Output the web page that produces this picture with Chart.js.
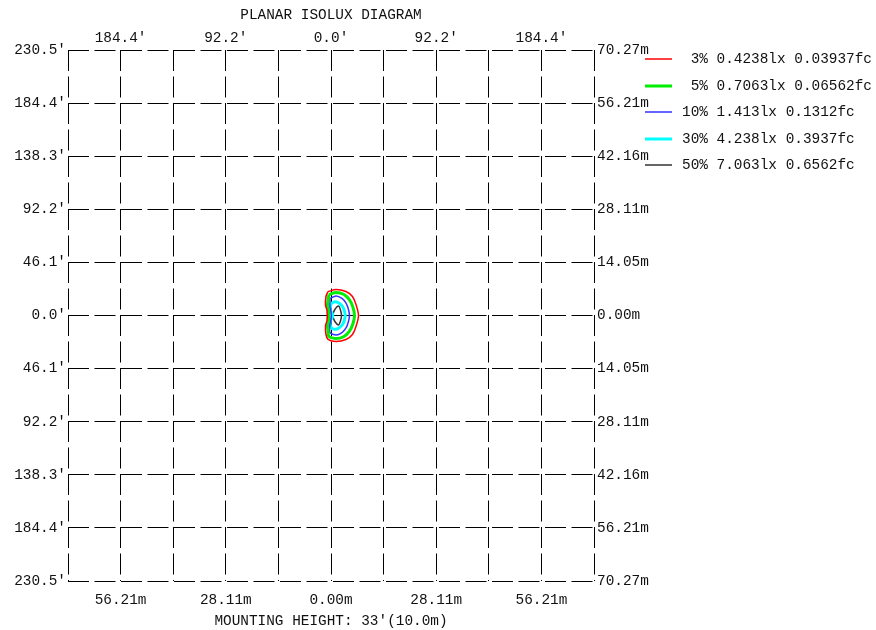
<!DOCTYPE html>
<html>
<head>
<meta charset="utf-8">
<title>Planar Isolux Diagram</title>
<script src="https://cdn.jsdelivr.net/npm/chart.js@4"></script>
<style>
  html, body { margin: 0; padding: 0; background: #fff; }
  canvas { display: block; }
</style>
</head>
<body>
<canvas id="isolux" width="876" height="630"></canvas>
<script>
// axis range in feet, both directions
var axisMin = -230.5;
var axisMax = 230.5;
var axisStep = 46.1;

var ftLabels = ["230.5'", "184.4'", "138.3'", "92.2'", "46.1'", "0.0'", "46.1'", "92.2'", "138.3'", "184.4'", "230.5'"];
var mLabels = ["70.27m", "56.21m", "42.16m", "28.11m", "14.05m", "0.00m", "14.05m", "28.11m", "42.16m", "56.21m", "70.27m"];

// contours, [x ft, y ft]
var contour3 = [[-2.6, 20.8], [4.4, 22.6], [13.1, 20.8], [18.8, 16.5], [21.9, 9.6], [24.1, 0], [21.9, -9.6], [18.8, -16.5], [13.1, -20.8], [4.4, -22.6], [-2.6, -20.8], [-4.4, -16.5], [-4.8, -8.7], [-3.5, -4.3], [-3.5, 4.3], [-4.8, 8.7], [-4.4, 16.5], [-2.6, 20.8]];
var contour5 = [[-1.8, 18.2], [4.4, 20], [11.4, 18.2], [16.2, 13.5], [19.1, 7.6], [20.6, 0], [19.1, -7.6], [16.2, -13.5], [11.4, -18.2], [4.4, -20], [-1.8, -18.2], [-2.6, -13], [-3.1, -7.8], [-2.2, -4.3], [-2.2, 4.3], [-3.1, 7.8], [-2.6, 13], [-1.8, 18.2]];
var contour10 = [[-0.9, 14.8], [4.4, 16.9], [9.6, 14.8], [13.3, 10.6], [15.3, 5.2], [16.2, 0], [15.3, -5.2], [13.3, -10.6], [9.6, -14.8], [4.4, -16.9], [-0.9, -14.8], [-0.9, -6.9], [0, -3.5], [0, 3.5], [-0.9, 6.9], [-0.9, 14.8]];
var contour30 = [[0, 10.4], [3.1, 12], [7, 10.9], [10.3, 7.6], [11.8, 3.9], [12.4, 0], [11.8, -3.9], [10.3, -7.6], [7, -10.9], [3.1, -12], [0, -10.4], [-0.7, -4.8], [1.3, -1.3], [1.3, 1.3], [-0.7, 4.8], [0, 10.4]];
var contour50 = [[1.3, 0], [3.1, 4.8], [6.6, 8.2], [8.3, 4.8], [9.2, 0], [8.3, -4.8], [6.6, -8.2], [3.1, -4.8], [1.3, 0]];

var legendPct = [" 3%", " 5%", "10%", "30%", "50%"];
var legendLux = ["0.4238lx", "0.7063lx", "1.413lx", "4.238lx", "7.063lx"];
var legendFc = ["0.03937fc", "0.06562fc", "0.1312fc", "0.3937fc", "0.6562fc"];
var legendColors = ["#ff0000", "#00ee00", "#3333ff", "#00ffff", "#333333"];
var legendWidths = [1.5, 3, 1.5, 3, 1.5];

var contours = [contour3, contour5, contour10, contour30, contour50];
var monoFont = "'Liberation Mono', 'Courier New', monospace";
var fontSize = 14.4;

function toPoints(arr) {
  return arr.map(function (p) { return { x: p[0], y: p[1] }; });
}

var datasets = contours.map(function (c, i) {
  return {
    label: legendPct[i].trim(),
    data: toPoints(c),
    showLine: true,
    borderColor: legendColors[i],
    borderWidth: legendWidths[i],
    pointRadius: 0,
    tension: 0.25,
    fill: false
  };
});

var legendPlugin = {
  id: "isoluxLegend",
  afterDraw: function (chart) {
    var ctx = chart.ctx;
    ctx.save();
    ctx.font = fontSize + "px " + monoFont;
    ctx.textBaseline = "middle";
    ctx.textAlign = "left";
    for (var i = 0; i < legendPct.length; i++) {
      var y = Math.round(59 + i * 26.5);
      ctx.strokeStyle = legendColors[i];
      ctx.lineWidth = legendWidths[i];
      ctx.beginPath();
      ctx.moveTo(645, y);
      ctx.lineTo(672, y);
      ctx.stroke();
      ctx.fillStyle = "#111";
      ctx.fillText(legendPct[i] + " " + legendLux[i] + " " + legendFc[i], 682, y + 0.5);
    }
    ctx.restore();
  }
};

function gridScale(pos, labels, onlyOdd, pad, size, showGrid, title) {
  return {
    type: "linear",
    position: pos,
    min: axisMin,
    max: axisMax,
    ticks: {
      stepSize: axisStep,
      autoSkip: false,
      maxRotation: 0,
      padding: pad,
      color: "#111",
      font: { family: monoFont, size: fontSize },
      callback: function (value, index) {
        if (onlyOdd && index % 2 === 0) return "";
        return labels[index];
      }
    },
    grid: {
      display: showGrid,
      drawTicks: false,
      color: "#000",
      lineWidth: 1
    },
    border: { display: false, dash: [21, 5.5] },
    title: title,
    afterFit: function (scale) {
      if (pos === "left" || pos === "right") scale.width = size;
      else scale.height = size;
    }
  };
}

new Chart(document.getElementById("isolux"), {
  type: "scatter",
  data: { datasets: datasets },
  plugins: [legendPlugin],
  options: {
    responsive: false,
    animation: false,
    layout: { padding: 0 },
    plugins: {
      legend: { display: false },
      tooltip: { enabled: false }
    },
    scales: {
      x: gridScale("bottom", mLabels, true, 11, 49, true, {
        display: true,
        text: "MOUNTING HEIGHT: 33'(10.0m)",
        color: "#111",
        font: { family: monoFont, size: fontSize },
        padding: { top: 0, bottom: 0 }
      }),
      x2: gridScale("top", ftLabels, true, 3, 50, false, {
        display: true,
        text: "PLANAR ISOLUX DIAGRAM",
        color: "#111",
        font: { family: monoFont, size: fontSize },
        padding: { top: 7, bottom: 0 }
      }),
      y: gridScale("left", ftLabels, false, 2, 68, true, { display: false }),
      y2: gridScale("right", mLabels, false, 3, 282, false, { display: false })
    }
  }
});
</script>
</body>
</html>
